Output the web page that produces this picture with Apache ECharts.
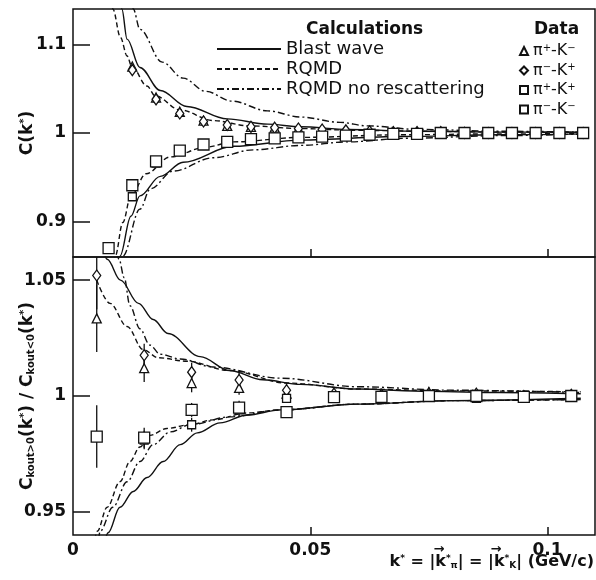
<!DOCTYPE html>
<html>
<head>
<meta charset="utf-8">
<script src="https://cdn.jsdelivr.net/npm/echarts@6/dist/echarts.min.js"></script>
<style>
  html, body { margin: 0; padding: 0; background: #fff; }
  #chart { width: 596px; height: 580px; }
</style>
</head>
<body>
<div id="chart"></div>
<script>
// k* bins (GeV/c)
const kTop = [0.0075, 0.0125, 0.0175, 0.0225, 0.0275, 0.0325, 0.0375, 0.0425, 0.0475, 0.0525, 0.0575,
  0.0625, 0.0675, 0.0725, 0.0775, 0.0825, 0.0875, 0.0925, 0.0975, 0.1025, 0.1075];
const kBot = [0.005, 0.015, 0.025, 0.035, 0.045, 0.055, 0.065, 0.075, 0.085, 0.095, 0.105];

// top panel: C(k*)
const topPipKm = [null, 1.075, 1.040, 1.024, 1.014, 1.008, 1.007, 1.006, 1.005, 1.004, 1.003, 1.002, 1.001, 1.001, 1.001, 1.001, 1.000, 1.000, 1.000, 1.000, 1.000];
const topPimKp = [null, 1.071, 1.038, 1.022, 1.013, 1.009, 1.007, 1.006, 1.005, 1.004, 1.003, 1.002, 1.001, 1.001, 1.001, 1.000, 1.000, 1.000, 1.000, 1.000, 1.000];
const topPipKp = [null, 0.928, 0.966, 0.979, 0.986, 0.989, 0.992, 0.994, 0.995, 0.996, 0.997, 0.998, 0.999, 0.999, 0.999, 0.999, 1.000, 1.000, 1.000, 1.000, 1.000];
const topPimKm = [0.870, 0.941, 0.968, 0.980, 0.987, 0.990, 0.993, 0.994, 0.995, 0.996, 0.997, 0.998, 0.999, 0.999, 1.000, 1.000, 1.000, 1.000, 1.000, 1.000, 1.000];

// bottom panel: C(k_out>0)/C(k_out<0)
const botPipKm = [1.0335, 1.012, 1.0056, 1.0035, 1.001, 1.000, 1.000, 1.0017, 1.000, 1.000, 1.000];
const botPimKp = [1.052, 1.0176, 1.0103, 1.0069, 1.0025, 1.001, 1.0005, 1.001, 1.001, 1.000, 1.0005];
const botPipKp = [null, 0.981, 0.9876, 0.994, 0.999, 0.999, 0.999, 1.000, 0.999, 0.9995, 0.9995];
const botPimKm = [0.9825, 0.982, 0.994, 0.995, 0.993, 0.9995, 0.9996, 1.000, 1.000, 0.9996, 1.000];
const errPipKm = [0.0145, 0.006, 0.004, 0.003, 0.003, 0.002, 0.002, 0.002, 0.002, 0.002, 0.002];
const errPimKp = [0.0145, 0.005, 0.004, 0.003, 0.003, 0.002, 0.002, 0.002, 0.002, 0.002, 0.002];
const errPipKp = [null, 0.004, 0.003, 0.003, 0.002, 0.002, 0.002, 0.002, 0.002, 0.002, 0.002];
const errPimKm = [0.0135, 0.0043, 0.003, 0.003, 0.002, 0.002, 0.002, 0.002, 0.002, 0.002, 0.002];

// calculations, top panel [k*, C]
const blastTopHigh = [[0.0098, 1.16], [0.0103, 1.140], [0.0114, 1.106], [0.0141, 1.074], [0.0184, 1.048], [0.024, 1.030],
  [0.0325, 1.016], [0.041, 1.010], [0.048, 1.007], [0.058, 1.004], [0.073, 1.002], [0.09, 1.001], [0.108, 1.0008]];
const blastTopLow = [[0.0095, 0.845], [0.0099, 0.861], [0.0122, 0.906], [0.0141, 0.929], [0.0184, 0.951], [0.0232, 0.967],
  [0.0338, 0.985], [0.048, 0.992], [0.069, 0.996], [0.09, 0.998], [0.108, 0.999]];
const rqmdTopHigh = [[0.0079, 1.16], [0.0084, 1.140], [0.0100, 1.108], [0.0114, 1.087], [0.0124, 1.075], [0.0156, 1.053],
  [0.0173, 1.042], [0.0226, 1.026], [0.0295, 1.014], [0.0373, 1.008], [0.048, 1.005], [0.060, 1.003], [0.075, 1.002], [0.09, 1.001], [0.108, 1.0008]];
const rqmdTopLow = [[0.0085, 0.845], [0.0089, 0.861], [0.0105, 0.899], [0.0122, 0.929], [0.0154, 0.954], [0.0205, 0.973],
  [0.028, 0.984], [0.0338, 0.990], [0.048, 0.995], [0.069, 0.998], [0.09, 0.999], [0.108, 0.9993]];
const norescTopHigh = [[0.0122, 1.16], [0.0127, 1.14], [0.0141, 1.117], [0.0188, 1.080], [0.0232, 1.062], [0.028, 1.047],
  [0.0335, 1.036], [0.041, 1.025], [0.048, 1.018], [0.0563, 1.012], [0.062, 1.008], [0.073, 1.004], [0.09, 1.002], [0.108, 1.001]];
const norescTopLow = [[0.0101, 0.845], [0.0105, 0.861], [0.0141, 0.914], [0.0163, 0.937], [0.0211, 0.957], [0.0295, 0.972],
  [0.038, 0.981], [0.048, 0.986], [0.058, 0.990], [0.07, 0.994], [0.09, 0.997], [0.108, 0.999]];

// calculations, bottom panel [k*, ratio]
const blastBotHigh = [[0.0065, 1.062], [0.0072, 1.059], [0.0100, 1.050], [0.0138, 1.040], [0.0169, 1.033], [0.0200, 1.027],
  [0.0268, 1.017], [0.033, 1.011], [0.040, 1.007], [0.048, 1.005], [0.06, 1.003], [0.075, 1.002], [0.09, 1.0015], [0.107, 1.001]];
const blastBotLow = [[0.0068, 0.938], [0.0074, 0.941], [0.0099, 0.952], [0.0127, 0.9588], [0.0156, 0.9648], [0.019, 0.9717],
  [0.0226, 0.979], [0.0262, 0.9841], [0.031, 0.9884], [0.0367, 0.9918], [0.0437, 0.994], [0.06, 0.9965], [0.08, 0.998], [0.107, 0.999]];
const rqmdBotHigh = [[0.005, 1.050], [0.0078, 1.040], [0.0114, 1.030], [0.0148, 1.020], [0.018, 1.0165], [0.024, 1.0150],
  [0.033, 1.011], [0.045, 1.0056], [0.06, 1.003], [0.08, 1.0022], [0.107, 1.0018]];
const rqmdBotLow = [[0.0046, 0.938], [0.0051, 0.9416], [0.0072, 0.952], [0.0099, 0.963], [0.0120, 0.9717], [0.0141, 0.978],
  [0.0162, 0.983], [0.0198, 0.986], [0.0247, 0.9876], [0.0295, 0.9897], [0.0367, 0.9927], [0.0437, 0.994], [0.06, 0.9965], [0.08, 0.998], [0.107, 0.9985]];
const norescBotHigh = [[0.0092, 1.062], [0.0097, 1.059], [0.0108, 1.051], [0.0120, 1.039], [0.0141, 1.029], [0.0162, 1.022],
  [0.0184, 1.018], [0.0226, 1.016], [0.0295, 1.0125], [0.0437, 1.0077], [0.06, 1.004], [0.08, 1.0025], [0.107, 1.0015]];
const norescBotLow = [[0.0054, 0.938], [0.0057, 0.9416], [0.0084, 0.952], [0.0114, 0.963], [0.0141, 0.9717], [0.0169, 0.979],
  [0.0205, 0.9845], [0.0247, 0.9876], [0.0331, 0.991], [0.0437, 0.994], [0.06, 0.9965], [0.08, 0.998], [0.107, 0.9985]];

const calcNames = ['Blast wave', 'RQMD', 'RQMD no rescattering'];
const dataNames = ['pipKm', 'pimKp', 'pipKp', 'pimKm'];
const dataLabels = {
  pipKm: '{n|π}{s|+}{n|-K}{s|−}',
  pimKp: '{n|π}{s|−}{n|-K}{s|+}',
  pipKp: '{n|π}{s|+}{n|-K}{s|+}',
  pimKm: '{n|π}{s|−}{n|-K}{s|−}'
};

const INK = '#111';
const NUM_FONT = 'DejaVu Sans';
const lineTypes = { 'Blast wave': 'solid', 'RQMD': [5, 3], 'RQMD no rescattering': [7, 3, 2, 3] };
const markers = {
  pipKm: { symbol: 'triangle', size: 9 },
  pimKp: { symbol: 'diamond', size: [8, 11] },
  pipKp: { symbol: 'rect', size: 8 },
  pimKm: { symbol: 'rect', size: 11 }
};

function curve(name, pts, grid) {
  return {
    type: 'line', name, data: pts, xAxisIndex: grid, yAxisIndex: grid,
    symbol: 'none', smooth: 0.35, smoothMonotone: 'x', z: 2,
    itemStyle: { color: INK },
    lineStyle: { color: INK, width: 1.4, type: lineTypes[name] }
  };
}
function points(name, xs, ys, grid) {
  return {
    type: 'scatter', name, xAxisIndex: grid, yAxisIndex: grid, z: 4,
    data: xs.map((k, i) => [k, ys[i]]).filter(p => p[1] !== null),
    symbol: markers[name].symbol, symbolSize: markers[name].size,
    itemStyle: { color: '#fff', borderColor: INK, borderWidth: 1.3, opacity: 1 }
  };
}
function errors(xs, ys, es, grid) {
  return {
    type: 'custom', xAxisIndex: grid, yAxisIndex: grid, z: 3, clip: true,
    encode: { x: 0, y: 1 },
    data: xs.map((k, i) => [k, ys[i], es[i]]).filter(p => p[1] !== null),
    renderItem: (params, api) => {
      const x = api.value(0), y = api.value(1), e = api.value(2);
      const a = api.coord([x, y + e]), b = api.coord([x, y - e]);
      return { type: 'line', shape: { x1: a[0], y1: a[1], x2: b[0], y2: b[1] },
        style: { stroke: INK, lineWidth: 1.3 } };
    }
  };
}

const subRich = {
  b: { fontFamily: NUM_FONT, fontWeight: 'bold', fontSize: 17, color: INK },
  sup: { fontFamily: NUM_FONT, fontWeight: 'bold', fontSize: 10, color: INK, verticalAlign: 'top' },
  sub: { fontFamily: NUM_FONT, fontWeight: 'bold', fontSize: 10, color: INK, verticalAlign: 'bottom' }
};
const nameRich = {
  b: { fontFamily: NUM_FONT, fontWeight: 'bold', fontSize: 16, color: INK },
  sup: { fontFamily: NUM_FONT, fontWeight: 'bold', fontSize: 9, color: INK, verticalAlign: 'top' },
  sub: { fontFamily: NUM_FONT, fontWeight: 'bold', fontSize: 9, color: INK, verticalAlign: 'bottom' },
  gap1: { width: 44, height: 8, align: 'left' },
  gap2: { width: 46, height: 8, align: 'left' },
  arr: { fontFamily: NUM_FONT, fontWeight: 'bold', fontSize: 13, lineHeight: 8, height: 8, color: INK, align: 'left' }
};

function yAxis(grid, min, max, ticks, name) {
  return {
    type: 'value', gridIndex: grid, min, max,
    axisLine: { show: false },
    splitLine: { show: false },
    axisTick: { show: true, inside: true, length: 17, customValues: ticks, lineStyle: { color: INK, width: 1.5 } },
    axisLabel: { customValues: ticks, margin: 7, fontFamily: NUM_FONT, fontWeight: 'bold', fontSize: 17, color: INK,
      formatter: v => String(+v.toFixed(3)) },
    name, nameLocation: 'middle', nameRotate: 90, nameGap: 37, nameMoveOverlap: false,
    nameTextStyle: { rich: subRich }
  };
}
function xAxis(grid, labels) {
  const ax = {
    type: 'value', gridIndex: grid, min: 0, max: 0.11,
    axisLine: { show: false },
    splitLine: { show: false },
    axisTick: { show: true, inside: true, length: 8, customValues: [0.05, 0.1], lineStyle: { color: INK, width: 1.5 } },
    axisLabel: { show: labels, customValues: [0, 0.05, 0.1], margin: 7, fontFamily: NUM_FONT, fontWeight: 'bold',
      fontSize: 17, color: INK, formatter: v => String(+v.toFixed(3)) }
  };
  if (labels) {
    ax.name = '{gap1|}{arr|→}{gap2|}{arr|→}\n' +
      '{b|k}{sup|*}{b| = |k}{sup|*}{sub|π}{b|| = |k}{sup|*}{sub|K}{b|| (GeV/c)}';
    ax.nameLocation = 'end';
    ax.nameGap = -1;
    ax.nameMoveOverlap = false;
    ax.nameTextStyle = { align: 'right', verticalAlign: 'top', padding: [11, 0, 0, 0], rich: nameRich };
  }
  return ax;
}

const series = [];
[[blastTopHigh, blastTopLow, 'Blast wave'], [rqmdTopHigh, rqmdTopLow, 'RQMD'], [norescTopHigh, norescTopLow, 'RQMD no rescattering']]
  .forEach(([hi, lo, n]) => { series.push(curve(n, hi, 0), curve(n, lo, 0)); });
[[blastBotHigh, blastBotLow, 'Blast wave'], [rqmdBotHigh, rqmdBotLow, 'RQMD'], [norescBotHigh, norescBotLow, 'RQMD no rescattering']]
  .forEach(([hi, lo, n]) => { series.push(curve(n, hi, 1), curve(n, lo, 1)); });
series.push(points('pipKm', kTop, topPipKm, 0), points('pimKp', kTop, topPimKp, 0),
  points('pipKp', kTop, topPipKp, 0), points('pimKm', kTop, topPimKm, 0));
series.push(errors(kBot, botPipKm, errPipKm, 1), errors(kBot, botPimKp, errPimKp, 1),
  errors(kBot, botPipKp, errPipKp, 1), errors(kBot, botPimKm, errPimKm, 1));
series.push(points('pipKm', kBot, botPipKm, 1), points('pimKp', kBot, botPimKp, 1),
  points('pipKp', kBot, botPipKp, 1), points('pimKm', kBot, botPimKm, 1));

const chart = echarts.init(document.getElementById('chart'), null, { renderer: 'canvas' });
chart.setOption({
  animation: false,
  backgroundColor: '#fff',
  textStyle: { fontFamily: 'DejaVu Sans', color: INK },
  title: [
    { text: 'Calculations', left: 306, top: 21, padding: 0,
      textStyle: { fontFamily: NUM_FONT, fontWeight: 'bold', fontSize: 17, color: INK } },
    { text: 'Data', left: 534, top: 21, padding: 0,
      textStyle: { fontFamily: NUM_FONT, fontWeight: 'bold', fontSize: 17, color: INK } }
  ],
  legend: [
    { data: calcNames, orient: 'vertical', left: 216, top: 40, padding: 0,
      itemWidth: 64, itemHeight: 14, itemGap: 2, itemTextGap: 3, selectedMode: false,
      itemStyle: { color: 'rgba(0,0,0,0)', borderWidth: 0, opacity: 0 },
      textStyle: { fontFamily: 'DejaVu Sans', fontSize: 18, color: INK } },
    { data: dataNames, orient: 'vertical', left: 519, top: 43, padding: 0,
      itemWidth: 8, itemHeight: 8, itemGap: 3.5, itemTextGap: 5, selectedMode: false,
      formatter: n => dataLabels[n],
      textStyle: { fontFamily: 'DejaVu Sans', fontSize: 16, color: INK,
        rich: { n: { fontFamily: 'DejaVu Sans', fontSize: 16, color: INK },
                s: { fontFamily: 'DejaVu Sans', fontSize: 10, color: INK, verticalAlign: 'top' } } } }
  ],
  grid: [
    { left: 73, right: 1, top: 9, height: 248, show: true, borderColor: INK, borderWidth: 1.5, outerBoundsMode: 'none' },
    { left: 73, right: 1, top: 257, height: 278, show: true, borderColor: INK, borderWidth: 1.5, outerBoundsMode: 'none' }
  ],
  xAxis: [xAxis(0, false), xAxis(1, true)],
  yAxis: [
    yAxis(0, 0.86, 1.14, [0.9, 1, 1.1], '{b|C(k}{sup|*}{b|)}'),
    yAxis(1, 0.94, 1.06, [0.95, 1, 1.05], '{b|C}{sub|kout>0}{b|(k}{sup|*}{b|) / C}{sub|kout<0}{b|(k}{sup|*}{b|)}')
  ],
  series
});
</script>
</body>
</html>
